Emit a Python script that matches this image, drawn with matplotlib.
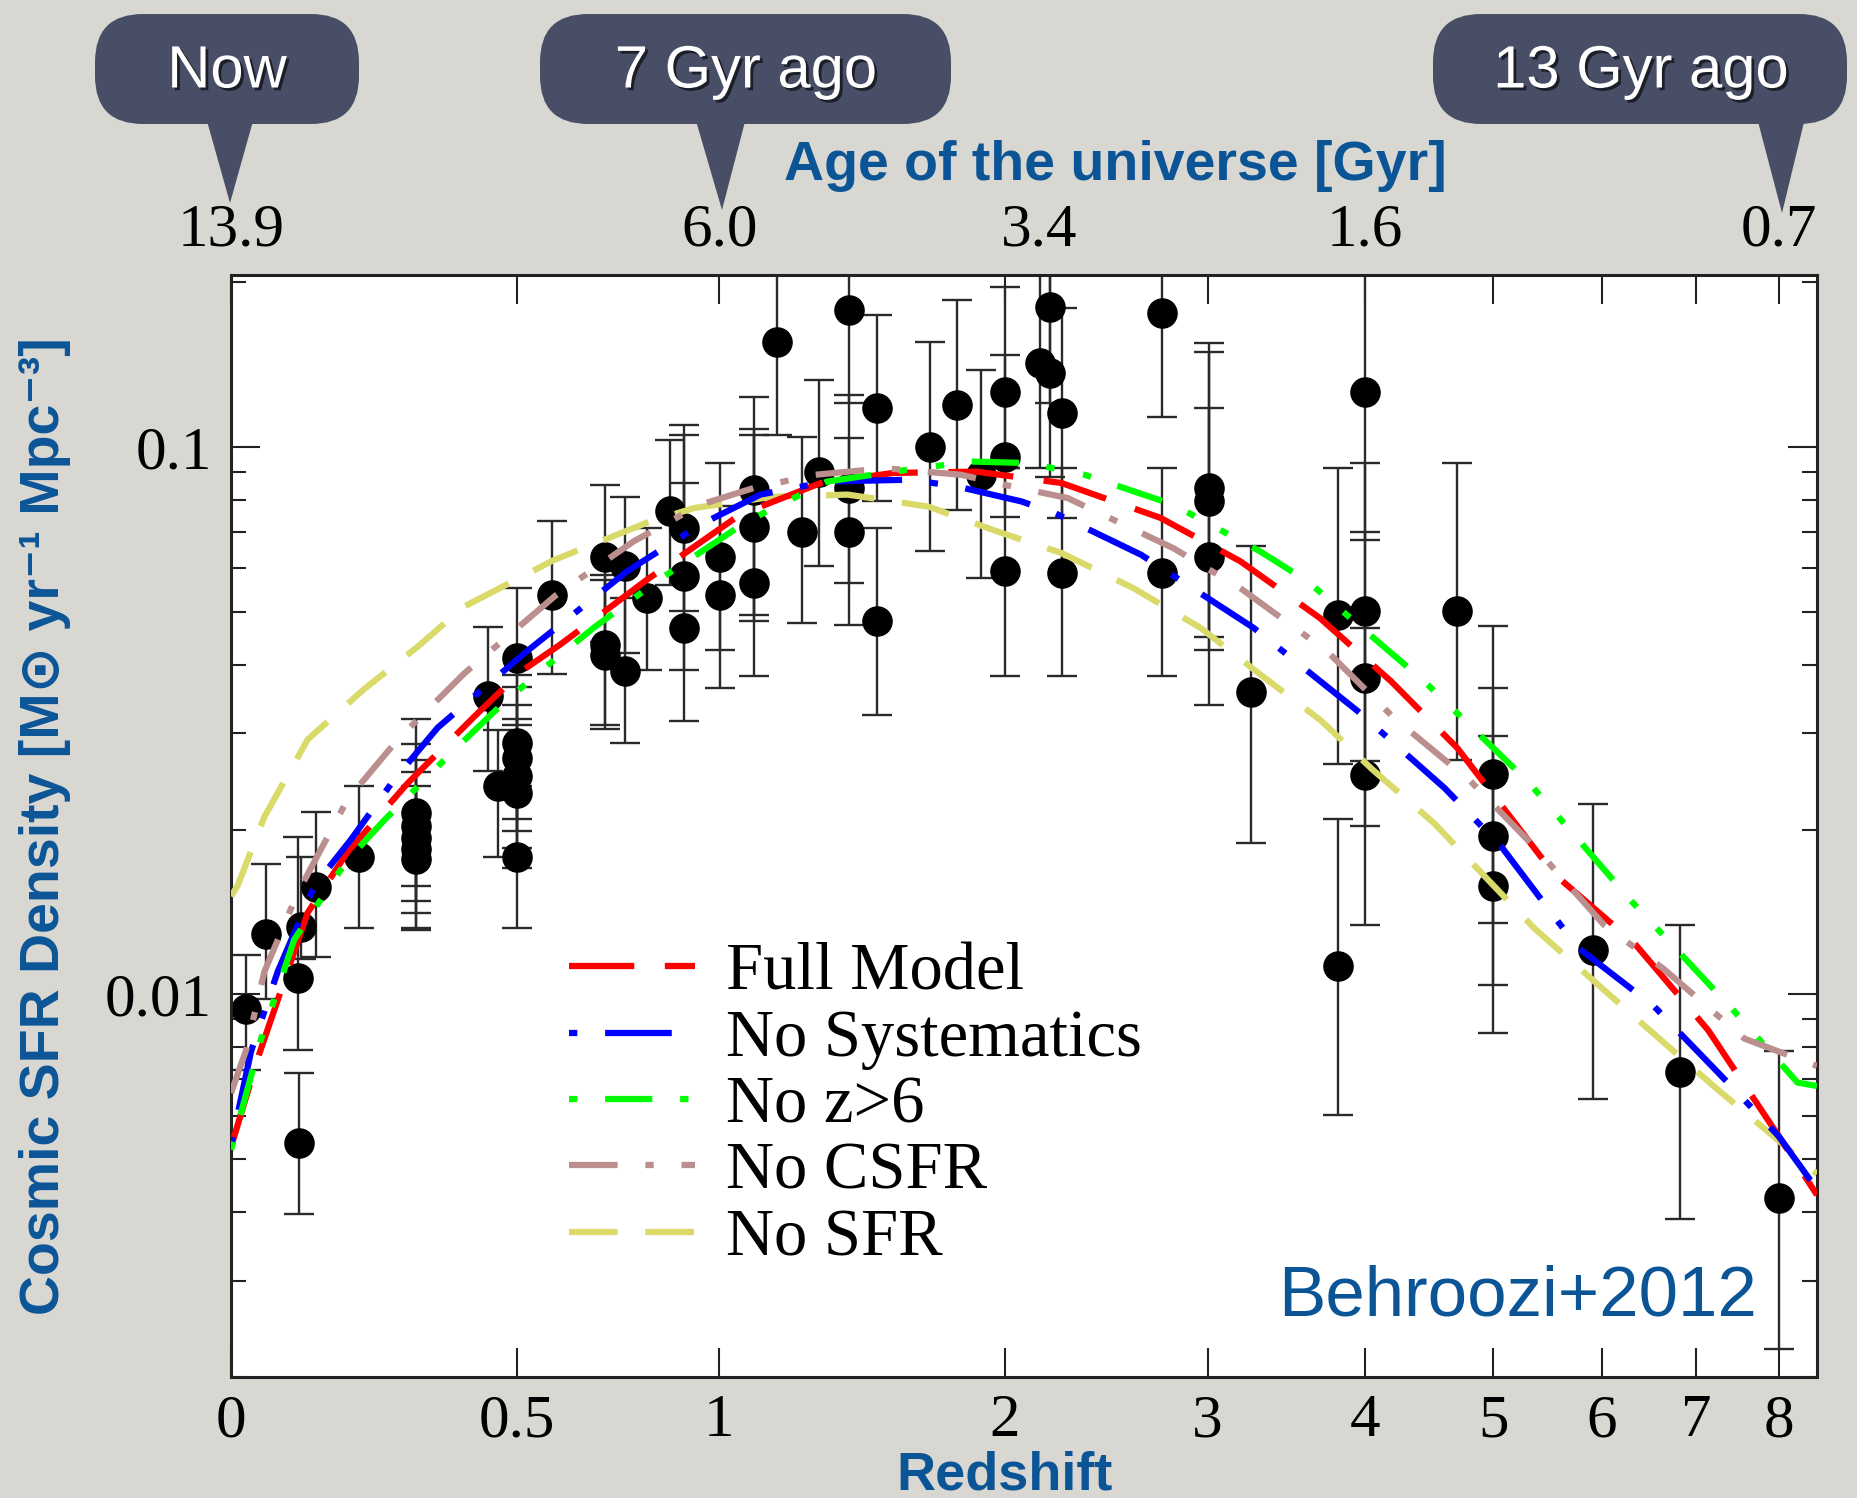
import numpy as np
import matplotlib
matplotlib.use("Agg")
import matplotlib.pyplot as plt
import matplotlib.patheffects as pe
from matplotlib import font_manager
from matplotlib.patches import FancyBboxPatch, Polygon

plt.rcParams["lines.scale_dashes"] = False

# observed cosmic SFR densities: redshift, value, lower / upper end of error bar
obs_z = [0.0215, 0.051, 0.099, 0.105, 0.128, 0.1007, 0.200,
         0.30, 0.30, 0.30, 0.30, 0.30, 0.44,
         0.50, 0.50, 0.50, 0.50, 0.50, 0.46, 0.50,
         0.578, 0.70, 0.70, 0.70, 0.75, 0.75, 0.805, 0.866, 0.901, 0.901, 0.901,
         1.003, 1.003, 1.10, 1.10, 1.10, 1.171, 1.249, 1.303, 1.404, 1.404, 1.404,
         1.502, 1.502, 1.699, 1.804, 1.898, 2.002, 2.002, 2.002, 2.155, 2.20, 2.20,
         2.253, 2.253, 2.751, 2.751, 3.008, 3.008, 3.008, 3.253, 3.81, 3.81,
         4.0, 4.0, 4.0, 4.0, 4.70, 5.0, 5.0, 5.0, 5.91, 6.82, 8.0]
obs_sfr = [0.0094, 0.0129, 0.0107, 0.0133, 0.0157, 0.00536, 0.0178,
           0.0214, 0.0203, 0.0193, 0.0184, 0.0177, 0.0350,
           0.0411, 0.0288, 0.0270, 0.0250, 0.0233, 0.0240, 0.0178,
           0.0537, 0.0630, 0.0435, 0.0417, 0.0605, 0.0389, 0.0530, 0.0762, 0.0710, 0.0580, 0.0467,
           0.0630, 0.0537, 0.0835, 0.0715, 0.0564, 0.1557, 0.0700, 0.0901, 0.1778, 0.0841, 0.0700,
           0.1176, 0.0480, 0.1001, 0.1193, 0.0889, 0.1262, 0.0960, 0.0592, 0.1420, 0.1362, 0.1803,
           0.1152, 0.0588, 0.1754, 0.0588, 0.0841, 0.0795, 0.0630, 0.0356, 0.0494, 0.01127,
           0.1262, 0.0501, 0.0378, 0.0252, 0.0501, 0.0253, 0.0195, 0.0158, 0.01205, 0.00722, 0.00425]
obs_lo = [0.00726, 0.0098, 0.0079, 0.0116, 0.0117, 0.00397, 0.0132,
          0.0158, 0.0148, 0.0141, 0.0132, 0.0131, 0.0256,
          0.0310, 0.0209, 0.0199, 0.0185, 0.0170, 0.0178, 0.0132,
          0.0384, 0.0440, 0.0311, 0.0305, 0.0420, 0.0288, 0.0392, 0.0560, 0.0501, 0.0392, 0.0316,
          0.0426, 0.0363, 0.0480, 0.0381, 0.0494, 0.1052, 0.0476, 0.0605, 0.1200, 0.0564, 0.0473,
          0.0795, 0.0324, 0.0644, 0.0767, 0.0576, 0.0915, 0.0746, 0.0381, 0.0915, 0.0880, 0.1200,
          0.0742, 0.0381, 0.1136, 0.0381, 0.0450, 0.0426, 0.0338, 0.0189, 0.0263, 0.00602,
          0.0676, 0.0267, 0.0203, 0.0134, 0.0268, 0.0135, 0.0104, 0.0085, 0.00644, 0.00388, 0.00225]
obs_hi = [0.0118, 0.0173, 0.0194, 0.0178, 0.0215, 0.00718, 0.0240,
          0.0318, 0.0286, 0.0268, 0.0240, 0.0255, 0.0468,
          0.0553, 0.0383, 0.0364, 0.0338, 0.0318, 0.0304, 0.0240,
          0.0733, 0.0852, 0.0584, 0.0570, 0.0811, 0.0530, 0.0712, 0.1030, 0.1097, 0.1052, 0.0859,
          0.0934, 0.0780, 0.1235, 0.1080, 0.1050, 0.30, 0.1044, 0.1325, 0.30, 0.1244, 0.1037,
          0.1741, 0.0711, 0.1556, 0.1855, 0.1380, 0.1960, 0.1470, 0.0915, 0.30, 0.30, 0.30,
          0.1790, 0.0915, 0.30, 0.0915, 0.1550, 0.1490, 0.1176, 0.0658, 0.0915, 0.0209,
          0.30, 0.0934, 0.0700, 0.0467, 0.0934, 0.0470, 0.0362, 0.0296, 0.0223, 0.0134, 0.00788]

# model fits
full_z = [0, 0.039, 0.115, 0.18, 0.285, 0.413, 0.51, 0.595, 0.805, 1.06, 1.31, 1.56,
          1.88, 2.25, 2.74, 3.19, 3.69, 4.19, 4.70, 5.54, 6.33, 7.14, 8.0, 8.5]
full_sfr = [0.00526, 0.00766, 0.0141, 0.0182, 0.0243, 0.0322, 0.0389, 0.0435, 0.0572,
            0.0752, 0.0859, 0.0896, 0.0901, 0.0859, 0.0742, 0.0618, 0.0487, 0.0373,
            0.0282, 0.0166, 0.0124, 0.0086, 0.0055, 0.0043]
nosys_z = [0, 0.029, 0.0685, 0.126, 0.186, 0.261, 0.341, 0.44, 0.517, 0.754, 0.947, 1.12,
           1.33, 1.62, 1.80, 2.07, 2.22, 2.64, 3.27, 3.95, 4.60, 5.07, 5.76, 6.54, 7.45,
           8.0, 8.5]
nosys_sfr = [0.0053, 0.00788, 0.011, 0.0158, 0.0192, 0.0247, 0.0307, 0.0368, 0.042,
             0.0592, 0.0721, 0.0818, 0.0864, 0.0871, 0.0847, 0.0795, 0.0757, 0.0635,
             0.0467, 0.0329, 0.0238, 0.0186, 0.0122, 0.0095, 0.0067, 0.0055, 0.0044]
noz6_z = [0, 0.0435, 0.094, 0.178, 0.243, 0.367, 0.454, 0.546, 0.673, 0.83, 1.08, 1.33,
          1.56, 1.86, 2.10, 2.36, 2.81, 3.31, 3.61, 4.44, 5.30, 6.30, 7.45, 8.24, 8.5]
noz6_sfr = [0.0052, 0.00828, 0.0126, 0.0175, 0.0208, 0.0276, 0.0329, 0.0386, 0.0467,
            0.0568, 0.0731, 0.0864, 0.0901, 0.0940, 0.0934, 0.0889, 0.0784, 0.0644,
            0.0568, 0.0373, 0.0245, 0.0148, 0.0093, 0.0069, 0.0068]
nocsfr_z = [0, 0.0215, 0.0485, 0.099, 0.18, 0.267, 0.393, 0.585, 0.771, 0.947, 1.10,
            1.29, 1.53, 1.82, 2.0, 2.28, 2.81, 3.19, 3.74, 4.21, 4.81, 5.36, 6.02, 6.65,
            7.57, 8.5]
nocsfr_sfr = [0.0066, 0.0079, 0.011, 0.0153, 0.0227, 0.0292, 0.0386, 0.0535, 0.0672,
              0.0784, 0.0841, 0.0889, 0.0914, 0.0889, 0.0852, 0.0806, 0.0653, 0.0552,
              0.0423, 0.0320, 0.0245, 0.0186, 0.0134, 0.0111, 0.0083, 0.0074]
nosfr_z = [0, 0.0095, 0.0485, 0.115, 0.208, 0.304, 0.391, 0.579, 0.805, 0.929, 1.16,
           1.40, 1.69, 1.97, 2.25, 2.60, 2.96, 3.31, 3.70, 4.05, 4.52, 5.36, 6.33, 7.25,
           8.0, 8.5]
nosfr_sfr = [0.0151, 0.0158, 0.0211, 0.0292, 0.0361, 0.0432, 0.051, 0.062, 0.0727,
             0.0773, 0.0811, 0.0818, 0.0778, 0.0700, 0.064, 0.0552, 0.0467, 0.0384,
             0.0316, 0.0258, 0.0205, 0.0132, 0.0091, 0.0067, 0.0054, 0.0047]

z_ticks = [0, 0.5, 1, 2, 3, 4, 5, 6, 7, 8]
z_ticklabels = ["0", "0.5", "1", "2", "3", "4", "5", "6", "7", "8"]
age_z = [0, 1, 2.15, 4, 8]
age_labels = ["13.9", "6.0", "3.4", "1.6", "0.7"]

installed = {f.name for f in font_manager.fontManager.ttflist}
narrow = "Liberation Sans Narrow" if "Liberation Sans Narrow" in installed else "Liberation Sans"
serif = "Liberation Serif"
blue_txt = "#0b5597"
bubble_col = "#474e66"

fig = plt.figure(figsize=(18.58, 14.98), dpi=100, facecolor="#d9d7d2")
ax = fig.add_axes([0.12433, 0.08077, 0.85361, 0.73565])
ax.set_facecolor("white")

ax.set_xscale("function", functions=(lambda z: np.log10(1 + np.clip(z, -0.99, None)),
                                     lambda u: 10 ** u - 1))
ax.set_yscale("log")
ax.set_xlim(0, 8.5)
ax.set_ylim(0.002, 0.206)

obs_sfr_a = np.array(obs_sfr)
yerr = [obs_sfr_a - np.array(obs_lo), np.array(obs_hi) - obs_sfr_a]
ax.errorbar(obs_z, obs_sfr, yerr=yerr, fmt="o", color="black", ms=21, mec="black",
            ecolor="#2a2a2a", elinewidth=1.7, capsize=11, capthick=1.7, zorder=2)

lw = 4.5
ax.plot(full_z, full_sfr, color="#ff0000", lw=lw, ls=(0, (47, 22)), label="Full Model", zorder=4)
ax.plot(nosys_z, nosys_sfr, color="#0000ff", lw=lw, ls=(68, (48, 20, 6, 20)),
        label="No Systematics", zorder=4)
ax.plot(noz6_z, noz6_sfr, color="#00ff00", lw=lw, ls=(81, (34, 20, 6, 21, 6, 20)),
        label="No z>6", zorder=4)
ax.plot(nocsfr_z, nocsfr_sfr, color="#bc8f8f", lw=lw, ls=(0, (35, 20, 6, 20)),
        label="No CSFR", zorder=4)
ax.plot(nosfr_z, nosfr_sfr, color="#dada6a", lw=lw, ls=(0, (35, 20)),
        label="No SFR", zorder=3)

for s in ax.spines.values():
    s.set_linewidth(2.2)
    s.set_color("#222222")
ax.set_xticks(z_ticks)
ax.set_xticklabels(z_ticklabels)
ax.xaxis.set_minor_locator(matplotlib.ticker.NullLocator())
ax.set_yticks([0.01, 0.1])
ax.set_yticklabels(["0.01", "0.1"])
ax.tick_params(which="both", direction="in", top=True, right=True, color="#222222",
               labelsize=44, width=1.5)
ax.tick_params(which="major", length=21)
ax.tick_params(which="minor", length=11)
ax.tick_params(axis="x", pad=12)
ax.tick_params(axis="y", pad=14)
for lab in ax.get_xticklabels() + ax.get_yticklabels():
    lab.set_fontfamily(serif)

# age of the universe along the top edge
for zz, lab in zip(age_z, age_labels):
    ax.text(zz, 1.04, lab, transform=ax.get_xaxis_transform(), ha="center", va="center",
            fontsize=44, family=serif, clip_on=False)

leg = ax.legend(loc="upper left", bbox_to_anchor=(0.213, 0.394), frameon=False,
                prop={"family": serif, "size": 48}, handlelength=1.9, handletextpad=0.46,
                labelspacing=0.08, borderpad=0, borderaxespad=0)

ax.text(0.8115, 0.0717, "Behroozi+2012", transform=ax.transAxes, ha="center", va="center",
        fontsize=51, color=blue_txt, family="Liberation Sans")

# overlay in pixel units for the slide annotations
ov = fig.add_axes([0, 0, 1, 1], zorder=5)
ov.set_xlim(0, 1858)
ov.set_ylim(1498, 0)
ov.axis("off")
ov.patch.set_alpha(0)

bubbles = [((95, 14, 264, 110), (205, 255, 230, 203), "Now", 227),
           ((540, 14, 411, 110), (694, 747, 722, 210), "7 Gyr ago", 746),
           ((1433, 14, 414, 110), (1756, 1806, 1782, 213), "13 Gyr ago", 1641)]
for (x0, y0, w, h), (t0, t1, tx, ty), txt, cx in bubbles:
    ov.add_patch(Polygon([(t0, y0 + h - 10), (t1, y0 + h - 10), (tx, ty)], closed=True,
                         fc=bubble_col, ec="none"))
    ov.add_patch(FancyBboxPatch((x0, y0), w, h, boxstyle="round,pad=0,rounding_size=48",
                                fc=bubble_col, ec="none"))
    ov.text(cx, y0 + h / 2 + 3, txt, ha="center", va="center", fontsize=43, color="white",
            family=narrow,
            path_effects=[pe.withSimplePatchShadow(offset=(2, -2), shadow_rgbFace="black", alpha=0.6)])

ov.text(1115, 166, "Age of the universe [Gyr]", ha="center", va="center", fontsize=40,
        fontweight="bold", color=blue_txt, family=[narrow, "DejaVu Sans"])
ov.text(1005, 1476, "Redshift", ha="center", va="center", fontsize=39,
        fontweight="bold", color=blue_txt, family=[narrow, "DejaVu Sans"])
ov.text(45, 826, "Cosmic SFR Density [M\u2299 yr\u207b\u00b9 Mpc\u207b\u00b3]", ha="center",
        va="center", rotation=90, fontsize=40, fontweight="bold", color=blue_txt,
        family=[narrow, "DejaVu Sans"])

fig.savefig("out.png", dpi=100, facecolor=fig.get_facecolor())
